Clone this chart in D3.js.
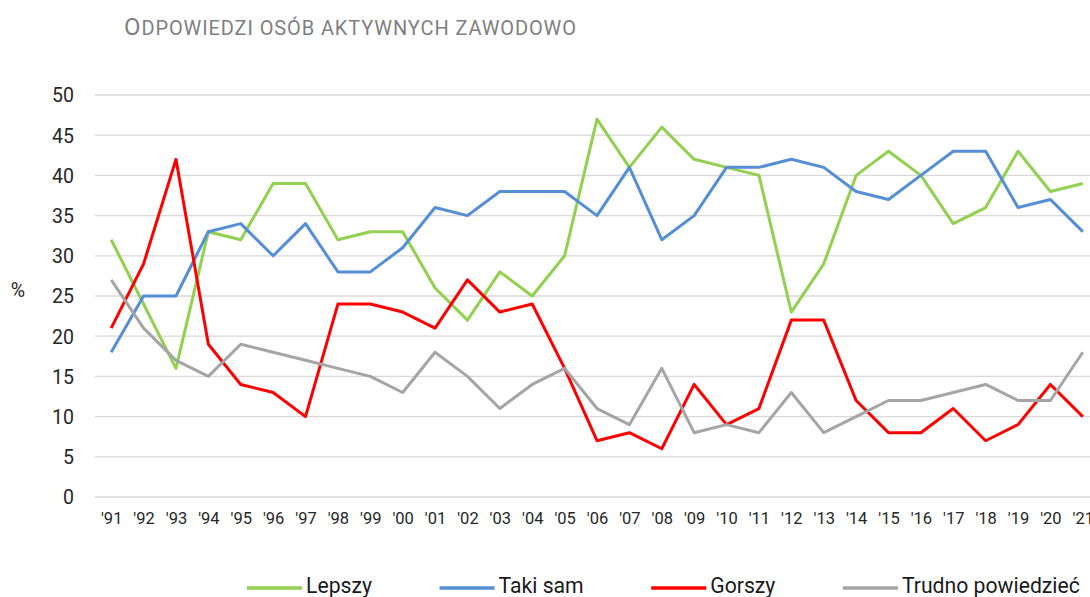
<!DOCTYPE html>
<html>
<head>
<meta charset="utf-8">
<script src="https://cdn.jsdelivr.net/npm/d3@7"></script>
<style>
  body { margin: 0; background: #fff; }
  svg { display: block; font-family: Roboto, "Noto Sans", sans-serif; }
</style>
</head>
<body>
<div id="chart"></div>
<script>
// data
var years = ["'91","'92","'93","'94","'95","'96","'97","'98","'99","'00","'01","'02","'03","'04","'05",
             "'06","'07","'08","'09","'10","'11","'12","'13","'14","'15","'16","'17","'18","'19","'20","'21"];
var lepszy  = [32,24,16,33,32,39,39,32,33,33,26,22,28,25,30,47,41,46,42,41,40,23,29,40,43,40,34,36,43,38,39];
var takiSam = [18,25,25,33,34,30,34,28,28,31,36,35,38,38,38,35,41,32,35,41,41,42,41,38,37,40,43,43,36,37,33];
var gorszy  = [21,29,42,19,14,13,10,24,24,23,21,27,23,24,16,7,8,6,14,9,11,22,22,12,8,8,11,7,9,14,10];
var trudno  = [27,21,17,15,19,18,17,16,15,13,18,15,11,14,16,11,9,16,8,9,8,13,8,10,12,12,13,14,12,12,18];
var seriesNames = ["Lepszy", "Taki sam", "Gorszy", "Trudno powiedzieć"];
var yTicks = [0,5,10,15,20,25,30,35,40,45,50];

var colors = ["#92d050", "#558ed5", "#ff0000", "#a5a5a5"];
var allSeries = [lepszy, takiSam, gorszy, trudno];

var W = 1090, H = 597;
var plot = {left: 95, right: 1099, top: 95, bottom: 497};

var svg = d3.select("#chart").append("svg")
    .attr("width", W)
    .attr("height", H);

var x = d3.scalePoint().domain(years).range([plot.left, plot.right]).padding(0.5);
var y = d3.scaleLinear().domain([0, 50]).range([plot.bottom, plot.top]);

// title (small caps look)
var title = svg.append("text")
    .attr("x", 124)
    .attr("y", 35)
    .attr("fill", "#7f7f7f")
    .attr("textLength", 452)
    .attr("lengthAdjust", "spacing");
title.append("tspan").attr("font-size", 24).text("O");
title.append("tspan").attr("font-size", 20).text("DPOWIEDZI OSÓB AKTYWNYCH ZAWODOWO");

// gridlines
svg.append("g")
  .selectAll("line")
  .data(yTicks)
  .enter()
  .append("line")
    .attr("x1", plot.left)
    .attr("x2", plot.right)
    .attr("y1", d => y(d))
    .attr("y2", d => y(d))
    .attr("stroke", "#d9d9d9")
    .attr("stroke-width", 1.3);

// y axis labels
var yAxis = svg.append("g")
    .attr("transform", "translate(" + (plot.left - 21) + ",0)")
    .call(d3.axisLeft(y).tickValues(yTicks).tickSize(0).tickPadding(0));
yAxis.select(".domain").remove();
yAxis.selectAll("text")
    .attr("font-family", "Roboto")
    .attr("font-size", 19.5)
    .attr("fill", "#262626")
    .attr("dy", "0.35em");

svg.append("text")
    .attr("x", 18)
    .attr("y", 297)
    .attr("text-anchor", "middle")
    .attr("font-size", 19.5)
    .attr("fill", "#262626")
    .text("%");

// x axis labels
var xAxis = svg.append("g")
    .attr("transform", "translate(0," + plot.bottom + ")")
    .call(d3.axisBottom(x).tickSize(0).tickPadding(0));
xAxis.select(".domain").remove();
xAxis.selectAll("text")
    .attr("font-family", "Roboto")
    .attr("font-size", 16.5)
    .attr("fill", "#262626")
    .attr("dy", null)
    .attr("y", 27);

// lines
var line = d3.line()
    .x((d, i) => x(years[i]))
    .y(d => y(d));

svg.append("g")
  .selectAll("path")
  .data(allSeries)
  .enter()
  .append("path")
    .attr("d", d => line(d))
    .attr("fill", "none")
    .attr("stroke", (d, i) => colors[i])
    .attr("stroke-width", 3)
    .attr("stroke-linejoin", "round");

// legend
var legend = svg.append("g");
var lx = 247;
seriesNames.forEach(function(name, i) {
  legend.append("line")
    .attr("x1", lx).attr("x2", lx + 55)
    .attr("y1", 588).attr("y2", 588)
    .attr("stroke", colors[i])
    .attr("stroke-width", 3.5);
  var t = legend.append("text")
    .attr("x", lx + 59)
    .attr("y", 593)
    .attr("font-size", 21.2)
    .attr("fill", "#1a1a1a")
    .text(name);
  lx = lx + 59 + t.node().getComputedTextLength() + 67.5;
});
</script>
</body>
</html>
